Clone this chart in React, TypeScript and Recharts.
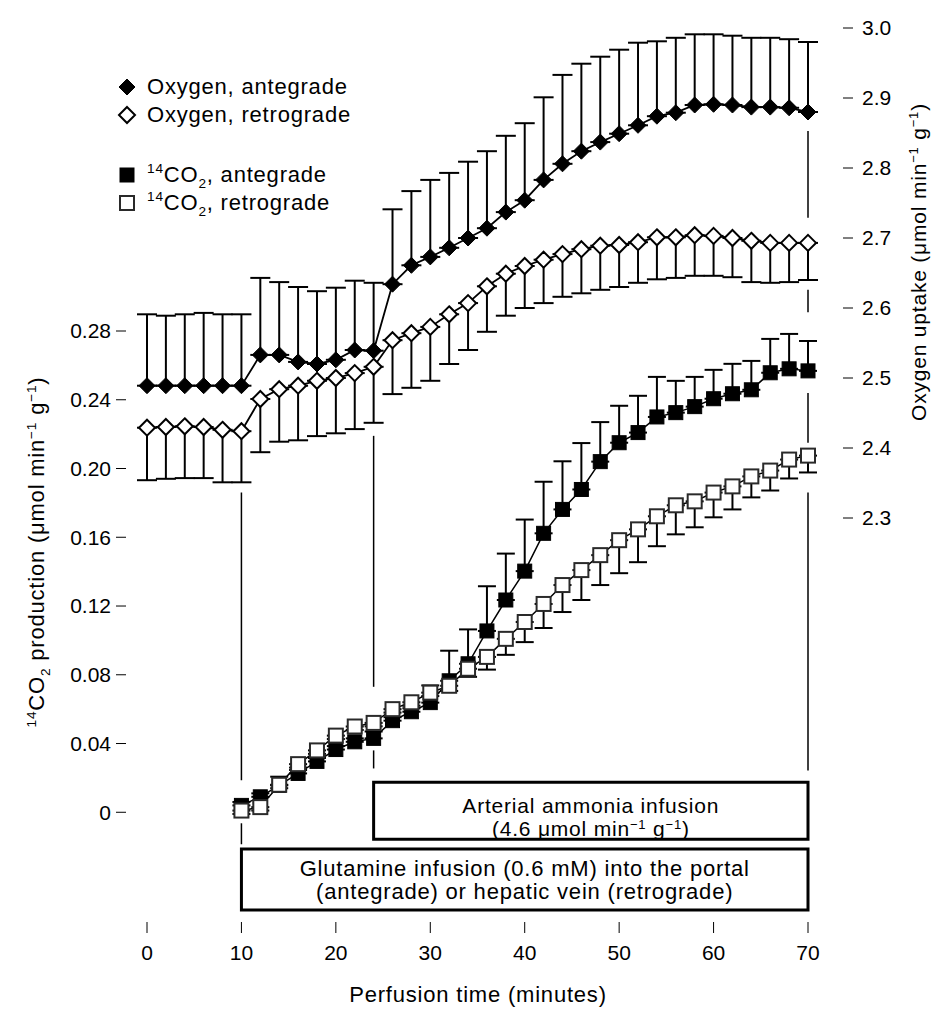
import React from 'react';
import {
  ComposedChart,
  Line,
  XAxis,
  YAxis,
  ErrorBar,
  ReferenceLine,
  ReferenceArea,
  Legend,
} from 'recharts';

// sampling times (minutes)
const oxygenTimes = [
  0, 2, 4, 6, 8, 10, 12, 14, 16, 18, 20, 22, 24, 26, 28, 30, 32, 34,
  36, 38, 40, 42, 44, 46, 48, 50, 52, 54, 56, 58, 60, 62, 64, 66, 68, 70,
];
const co2Times = [
  10, 12, 14, 16, 18, 20, 22, 24, 26, 28, 30, 32, 34, 36, 38, 40,
  42, 44, 46, 48, 50, 52, 54, 56, 58, 60, 62, 64, 66, 68, 70,
];

// oxygen uptake (umol/min/g), right axis
const oxygenAnte = [
  2.489, 2.489, 2.489, 2.489, 2.489, 2.489, 2.533, 2.533, 2.523, 2.52, 2.526, 2.54,
  2.539, 2.634, 2.661, 2.673, 2.686, 2.7, 2.714, 2.737, 2.754, 2.783, 2.806, 2.824,
  2.837, 2.849, 2.861, 2.874, 2.879, 2.89, 2.891, 2.89, 2.887, 2.887, 2.886, 2.88,
];
const oxygenAnteSd = [
  0.102, 0.1, 0.102, 0.104, 0.102, 0.102, 0.11, 0.104, 0.107, 0.104, 0.103, 0.099,
  0.097, 0.107, 0.106, 0.11, 0.107, 0.109, 0.11, 0.109, 0.11, 0.118, 0.127, 0.125,
  0.122, 0.12, 0.118, 0.107, 0.107, 0.101, 0.1, 0.099, 0.099, 0.099, 0.098, 0.1,
];
const oxygenRetro = [
  2.429, 2.43, 2.431, 2.43, 2.426, 2.424, 2.47, 2.484, 2.489, 2.496, 2.5, 2.507,
  2.516, 2.554, 2.564, 2.573, 2.591, 2.607, 2.631, 2.649, 2.66, 2.669, 2.677, 2.684,
  2.689, 2.69, 2.694, 2.701, 2.701, 2.704, 2.703, 2.7, 2.696, 2.693, 2.693, 2.693,
];
const oxygenRetroSd = [
  0.075, 0.074, 0.074, 0.073, 0.075, 0.073, 0.076, 0.075, 0.078, 0.079, 0.079, 0.08,
  0.08, 0.077, 0.078, 0.077, 0.071, 0.067, 0.065, 0.06, 0.06, 0.062, 0.061, 0.063,
  0.063, 0.06, 0.058, 0.06, 0.058, 0.058, 0.057, 0.056, 0.059, 0.057, 0.056, 0.053,
];

// 14CO2 production (umol/min/g), left axis
const co2Ante = [
  0.004, 0.009, 0.0157, 0.0226, 0.0296, 0.0365, 0.041, 0.043, 0.0533, 0.0585, 0.0638,
  0.0765, 0.0864, 0.1055, 0.1235, 0.1403, 0.1623, 0.1762, 0.1878, 0.204, 0.215,
  0.2209, 0.23, 0.2325, 0.236, 0.2406, 0.2435, 0.2458, 0.2557, 0.258, 0.2568,
];
const co2AnteSd = [
  0.002, 0.002, 0.005, 0.002, 0.002, 0.002, 0.002, 0.004, 0.002, 0.002, 0.01,
  0.0175, 0.02, 0.026, 0.027, 0.03, 0.03, 0.028, 0.027, 0.023, 0.0215,
  0.0214, 0.0233, 0.0185, 0.0173, 0.0168, 0.0174, 0.0168, 0.0197, 0.0203, 0.0174,
];
const co2Retro = [
  0.001, 0.003, 0.016, 0.028, 0.036, 0.0446, 0.0499, 0.052, 0.06, 0.064, 0.0696,
  0.0736, 0.0835, 0.0904, 0.1009, 0.1107, 0.1212, 0.1322, 0.1409, 0.1496, 0.1583,
  0.1646, 0.1722, 0.1786, 0.1809, 0.186, 0.1896, 0.1954, 0.1988, 0.2052, 0.2075,
];
const co2RetroSd = [
  0.002, 0.002, 0.002, 0.002, 0.002, 0.002, 0.002, 0.002, 0.002, 0.002, 0.002,
  0.003, 0.0047, 0.0074, 0.0093, 0.0117, 0.014, 0.0157, 0.0174, 0.0174, 0.0192,
  0.0191, 0.0174, 0.0169, 0.0151, 0.0144, 0.0134, 0.0122, 0.0116, 0.011, 0.0098,
];

const timeTicks = [0, 10, 20, 30, 40, 50, 60, 70];
const co2Ticks = [0, 0.04, 0.08, 0.12, 0.16, 0.2, 0.24, 0.28];
const oxygenTicks = [2.3, 2.4, 2.5, 2.6, 2.7, 2.8, 2.9, 3.0];

// infusion start / stop guide lines, in axis units
const guides = [
  { t: 10, axis: 'co2', from: 0.186, to: 0.0186 },
  { t: 10, axis: 'co2', from: -0.0064, to: -0.0186 },
  { t: 24, axis: 'co2', from: 0.219, to: 0.073 },
  { t: 24, axis: 'co2', from: 0.036, to: 0.0255 },
  { t: 70, axis: 'o2', from: 2.853, to: 2.729 },
  { t: 70, axis: 'o2', from: 2.626, to: 2.594 },
  { t: 70, axis: 'co2', from: 0.244, to: 0.215 },
  { t: 70, axis: 'co2', from: 0.186, to: 0.0243 },
];

type Part = [string, ('sup' | 'sub')?];

const infusions: {
  from: number; to: number; top: number; bottom: number; lines: Part[][]; base: number[]; size: number;
}[] = [
  {
    from: 24, to: 70, top: 0.0174, bottom: -0.0157,
    lines: [
      [['Arterial ammonia infusion']],
      [['(4.6 \u03bcmol min'], ['\u22121', 'sup'], [' g'], ['\u22121', 'sup'], [')']],
    ],
    base: [31, 54],
    size: 21,
  },
  {
    from: 10, to: 70, top: -0.0214, bottom: -0.0568,
    lines: [
      [['Glutamine infusion (0.6 mM) into the portal']],
      [['(antegrade) or hepatic vein (retrograde)']],
    ],
    base: [27, 50],
    size: 22,
  },
];

const FONT = '"Liberation Sans", Arial, Helvetica, sans-serif';
const TEXT = 22;

const legendItems: { parts: Part[]; shape: 'diamond' | 'square'; filled: boolean; gap: number }[] = [
  { parts: [['Oxygen, antegrade']], shape: 'diamond', filled: true, gap: 0 },
  { parts: [['Oxygen, retrograde']], shape: 'diamond', filled: false, gap: 0 },
  { parts: [['14', 'sup'], ['CO'], ['2', 'sub'], [', antegrade']], shape: 'square', filled: true, gap: 32 },
  { parts: [['14', 'sup'], ['CO'], ['2', 'sub'], [', retrograde']], shape: 'square', filled: false, gap: 0 },
];

const toRows = (times: number[], values: number[], sd: number[], up: boolean) =>
  times.map((t, i) => ({ t, v: values[i], err: up ? [0, sd[i]] : [sd[i], 0] }));

const oaRows = toRows(oxygenTimes, oxygenAnte, oxygenAnteSd, true);
const orRows = toRows(oxygenTimes, oxygenRetro, oxygenRetroSd, false);
const caRows = toRows(co2Times, co2Ante, co2AnteSd, true);
const crRows = toRows(co2Times, co2Retro, co2RetroSd, false);

const Marker = ({ cx, cy, shape, filled }: { cx: number; cy: number; shape: string; filled: boolean }) => {
  if (shape === 'diamond') {
    const r = 8;
    return (
      <path
        d={`M${cx},${cy - r}L${cx + r},${cy}L${cx},${cy + r}L${cx - r},${cy}Z`}
        fill={filled ? '#000' : '#fff'}
        stroke="#000"
        strokeWidth={filled ? 1 : 2}
      />
    );
  }
  const h = 7;
  return (
    <rect
      x={cx - h}
      y={cy - h}
      width={2 * h}
      height={2 * h}
      fill={filled ? '#000' : '#fff'}
      stroke={filled ? '#000' : '#2a2a2a'}
      strokeWidth={filled ? 1 : 2}
    />
  );
};

const makeDot = (shape: string, filled: boolean) => (props: any) => {
  const { cx, cy, index } = props;
  if (cx == null || cy == null) return <g key={index} />;
  return <Marker key={index} cx={cx} cy={cy} shape={shape} filled={filled} />;
};

// svg tspans with super/subscripts
const richSvg = (parts: Part[], size: number) => {
  let shift = 0;
  return parts.map(([txt, kind], i) => {
    const target = kind === 'sup' ? -size * 0.36 : kind === 'sub' ? size * 0.25 : 0;
    const dy = target - shift;
    shift = target;
    return (
      <tspan key={i} dy={dy} fontSize={kind ? size * 0.62 : size}>
        {txt}
      </tspan>
    );
  });
};

const richHtml = (parts: Part[], size: number) =>
  parts.map(([txt, kind], i) => (
    <span
      key={i}
      style={{
        fontSize: kind ? size * 0.62 : size,
        position: 'relative',
        top: kind === 'sup' ? -size * 0.4 : kind === 'sub' ? size * 0.25 : 0,
      }}
    >
      {txt}
    </span>
  ));

const BoxLabel = (props: any) => {
  const { viewBox, lines, base, size } = props;
  if (!viewBox) return null;
  const cx = viewBox.x + viewBox.width / 2;
  return (
    <g>
      {lines.map((parts: Part[], i: number) => (
        <text
          key={i}
          x={cx}
          y={viewBox.y + base[i]}
          textAnchor="middle"
          fontSize={size}
          letterSpacing={0.8}
          fill="#000"
        >
          {richSvg(parts, size)}
        </text>
      ))}
    </g>
  );
};

const LeftTitle = () => (
  <text
    transform="translate(44,552) rotate(-90)"
    textAnchor="middle"
    fontSize={TEXT}
    letterSpacing={0.8}
    fill="#000"
  >
    {richSvg(
      [['14', 'sup'], ['CO'], ['2', 'sub'], [' production (\u03bcmol min'], ['\u22121', 'sup'], [' g'], ['\u22121', 'sup'], [')']],
      TEXT,
    )}
  </text>
);

const RightTitle = () => (
  <text
    transform="translate(926,262) rotate(-90)"
    textAnchor="middle"
    fontSize={TEXT - 1}
    letterSpacing={0.8}
    fill="#000"
  >
    {richSvg(
      [['Oxygen uptake  (\u03bcmol min'], ['\u22121', 'sup'], [' g'], ['\u22121', 'sup'], [')']],
      TEXT - 1,
    )}
  </text>
);

const BottomTitle = () => (
  <text x={478} y={1002} textAnchor="middle" fontSize={TEXT} letterSpacing={0.8} fill="#000">
    Perfusion time (minutes)
  </text>
);

const LegendBox = () => (
  <div style={{ fontFamily: FONT, color: '#000' }}>
    {legendItems.map((item, i) => (
      <div
        key={i}
        style={{ display: 'flex', alignItems: 'center', height: 28, marginTop: item.gap, whiteSpace: 'nowrap' }}
      >
        <svg width={24} height={24} style={{ marginRight: 8 }}>
          <Marker cx={12} cy={12} shape={item.shape} filled={item.filled} />
        </svg>
        <span style={{ fontSize: TEXT, letterSpacing: 0.8 }}>{richHtml(item.parts, TEXT)}</span>
      </div>
    ))}
  </div>
);

const tickStyle = { fill: '#000', fontSize: 21, fontFamily: FONT };

export default function App() {
  return (
    <div style={{ position: 'absolute', left: 0, top: 0, fontFamily: FONT, background: '#fff' }}>
      <ComposedChart width={934} height={1011} margin={{ top: 28, right: 0, bottom: 0, left: 0 }}>
        <XAxis
          dataKey="t"
          type="number"
          domain={[0, 70]}
          ticks={timeTicks}
          padding={{ left: 21, right: 35 }}
          height={89}
          axisLine={false}
          tickSize={11}
          tickMargin={12}
          stroke="#000"
          tick={tickStyle}
          label={<BottomTitle />}
        />
        <XAxis xAxisId="frame" type="number" domain={[0, 1]} hide />
        <YAxis
          yAxisId="co2"
          orientation="left"
          type="number"
          domain={[0, 0.28]}
          ticks={co2Ticks}
          padding={{ top: 303, bottom: 108 }}
          width={126}
          axisLine={false}
          tickSize={10}
          tickMargin={5}
          stroke="#000"
          tick={tickStyle}
          tickFormatter={(v: number) => (v === 0 ? '0' : v.toFixed(2))}
          label={<LeftTitle />}
        />
        <YAxis
          yAxisId="o2"
          orientation="right"
          type="number"
          domain={[2.3, 3.0]}
          ticks={oxygenTicks}
          padding={{ top: 0, bottom: 404 }}
          width={91}
          axisLine={false}
          tickSize={10}
          tickMargin={9}
          stroke="#000"
          tick={tickStyle}
          tickFormatter={(v: number) => v.toFixed(1)}
          label={<RightTitle />}
        />
        <YAxis yAxisId="frame" type="number" domain={[0, 1]} hide />

        {/* detached axis lines */}
        <ReferenceLine
          xAxisId="frame"
          yAxisId="co2"
          segment={[{ x: 0, y: 0 }, { x: 0, y: 0.28 }]}
          stroke="#000"
          strokeWidth={3}
          ifOverflow="visible"
        />
        <ReferenceLine
          xAxisId="frame"
          yAxisId="o2"
          segment={[{ x: 1, y: 2.3 }, { x: 1, y: 3.0 }]}
          stroke="#000"
          strokeWidth={3}
          ifOverflow="visible"
        />
        <ReferenceLine
          yAxisId="frame"
          segment={[{ x: 0, y: 0 }, { x: 70, y: 0 }]}
          stroke="#000"
          strokeWidth={3.5}
          ifOverflow="visible"
        />

        {guides.map((g, i) => (
          <ReferenceLine
            key={`g${i}`}
            yAxisId={g.axis}
            segment={[{ x: g.t, y: g.from }, { x: g.t, y: g.to }]}
            stroke="#000"
            strokeWidth={1.5}
            ifOverflow="visible"
          />
        ))}

        {infusions.map((b, i) => (
          <ReferenceArea
            key={`b${i}`}
            yAxisId="co2"
            x1={b.from}
            x2={b.to}
            y1={b.bottom}
            y2={b.top}
            fill="#fff"
            fillOpacity={1}
            stroke="#000"
            strokeWidth={3}
            ifOverflow="visible"
            label={<BoxLabel lines={b.lines} base={b.base} size={b.size} />}
          />
        ))}

        <Line
          data={oaRows}
          dataKey="v"
          yAxisId="o2"
          type="linear"
          stroke="#000"
          strokeWidth={1.8}
          dot={makeDot('diamond', true)}
          activeDot={false}
          isAnimationActive={false}
          legendType="none"
        >
          <ErrorBar dataKey="err" width={10} stroke="#000" strokeWidth={2} direction="y" isAnimationActive={false} />
        </Line>
        <Line
          data={orRows}
          dataKey="v"
          yAxisId="o2"
          type="linear"
          stroke="#000"
          strokeWidth={1.8}
          dot={makeDot('diamond', false)}
          activeDot={false}
          isAnimationActive={false}
          legendType="none"
        >
          <ErrorBar dataKey="err" width={10} stroke="#000" strokeWidth={2} direction="y" isAnimationActive={false} />
        </Line>
        <Line
          data={caRows}
          dataKey="v"
          yAxisId="co2"
          type="linear"
          stroke="#000"
          strokeWidth={1.5}
          dot={makeDot('square', true)}
          activeDot={false}
          isAnimationActive={false}
          legendType="none"
        >
          <ErrorBar dataKey="err" width={9} stroke="#000" strokeWidth={2} direction="y" isAnimationActive={false} />
        </Line>
        <Line
          data={crRows}
          dataKey="v"
          yAxisId="co2"
          type="linear"
          stroke="#000"
          strokeWidth={1.5}
          dot={makeDot('square', false)}
          activeDot={false}
          isAnimationActive={false}
          legendType="none"
        >
          <ErrorBar dataKey="err" width={9} stroke="#000" strokeWidth={2} direction="y" isAnimationActive={false} />
        </Line>

        <Legend
          layout="vertical"
          align="center"
          verticalAlign="middle"
          content={() => <LegendBox />}
          wrapperStyle={{ top: 73, left: 115, width: 'auto' }}
        />
      </ComposedChart>
    </div>
  );
}
